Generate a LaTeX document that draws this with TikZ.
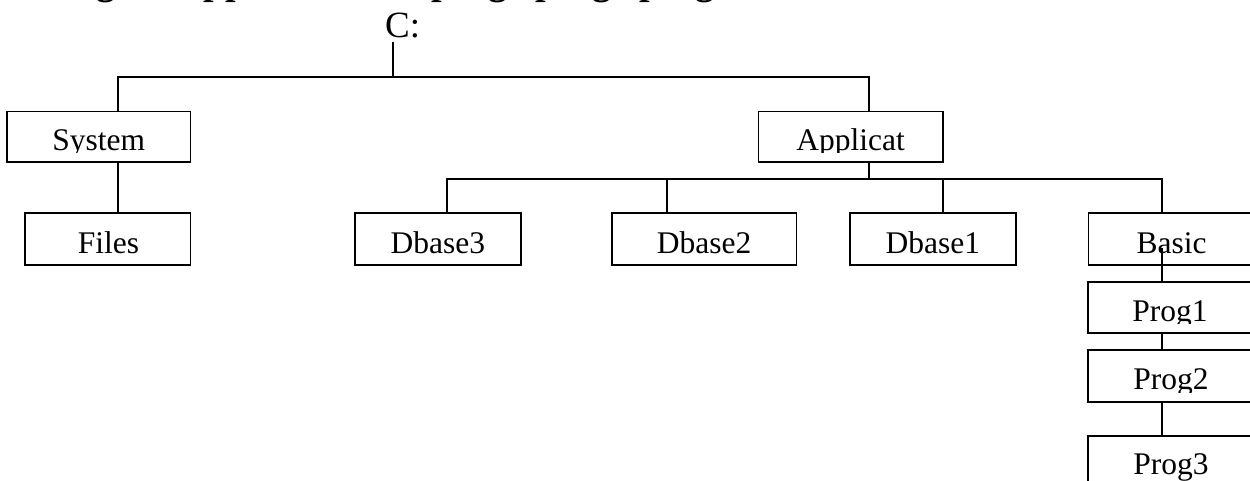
\documentclass[tikz,border=0pt]{standalone}
\usepackage{fontspec}
\setmainfont{Liberation Serif}
\begin{document}
\begin{tikzpicture}[x=1pt,y=-1pt,
  box/.style={draw, line width=1.8pt, inner sep=0pt, outer sep=0pt, rectangle},
  lbl/.style={anchor=base, inner sep=0pt, outer sep=0pt, font=\fontsize{31.5}{36}\selectfont},
  wire/.style={line width=1.8pt}]
\useasboundingbox (0,0) rectangle (1250,481);
\clip (0,0) rectangle (1250,481);

% heading, cut off at the top edge
\node[anchor=base west, inner sep=0pt, font=\fontsize{38}{44}\selectfont\bfseries] (head) at (1,-5.5) {Listing the applications to prog1 prog2 prog3};

% root label
\node[anchor=base, inner sep=0pt, font=\fontsize{37}{42}\selectfont] (root) at (402.7,37.5) {C:};

% boxes
\node[box, minimum width=183.5pt, minimum height=50.8pt] (sys) at (98.75,136.9) {};
\node[box, minimum width=184.1pt, minimum height=50.8pt] (apl) at (850.55,136.9) {};
\node[box, minimum width=165.8pt, minimum height=51.7pt] (files) at (107.6,239.15) {};
\node[box, minimum width=166.2pt, minimum height=51.7pt] (db3) at (437.8,239.15) {};
\node[box, minimum width=184.6pt, minimum height=51.7pt] (db2) at (704.1,239.15) {};
\node[box, minimum width=165.4pt, minimum height=51.7pt] (db1) at (932.9,239.15) {};
\node[box, minimum width=173.5pt, minimum height=51.7pt] (basic) at (1175.25,239.15) {};
\node[box, minimum width=173.5pt, minimum height=51pt] (p1) at (1175.05,307.2) {};
\node[box, minimum width=173.5pt, minimum height=51.7pt] (p2) at (1175.05,375.85) {};
\node[box, minimum width=173.5pt, minimum height=59.3pt] (p3) at (1175.05,465.35) {};

% labels (clipped as in the reference)
\begin{scope}
\clip (0,0) rectangle (1250,152.3);
\node[lbl] (sys-t) at (98.75,150.7) {System};
\node[lbl] (apl-t) at (850.55,150.7) {Applicat};
\end{scope}
\node[lbl] (files-t) at (108.6,254) {Files};
\node[lbl] (db3-t) at (437.8,254) {Dbase3};
\node[lbl] (db2-t) at (704.1,254) {Dbase2};
\node[lbl] (db1-t) at (932.9,254) {Dbase1};
\node[lbl] (basic-t) at (1171.5,253.5) {Basic};
\begin{scope}
\clip (0,0) rectangle (1250,323);
\node[lbl] (p1-t) at (1170,321.7) {Prog1};
\end{scope}
\begin{scope}
\clip (0,0) rectangle (1250,392);
\node[lbl] (p2-t) at (1171,389.3) {Prog2};
\end{scope}
\node[lbl] (p3-t) at (1171,474) {Prog3};

% junction coordinates
\coordinate (rootDrop) at (393,42);
\coordinate (barL) at (118,77);
\coordinate (barR) at (869,77);
\coordinate (barC) at (393,77);
\coordinate (aplBar) at (869,179.3);
\coordinate (subL) at (447.2,179.3);
\coordinate (subR) at (1162.3,179.3);
\coordinate (basicIn) at (1162.3,248);

% connectors
\draw[wire] (rootDrop) -- (barC);
\draw[wire] (sys.north -| barL) -- (barL) -- (barR) -- (apl.north -| barR);
\draw[wire] (sys.south -| barL) -- (files.north -| barL);
\draw[wire] (apl.south -| barR) -- (aplBar);
\draw[wire] (db3.north -| subL) -- (subL) -- (subR) -- (basic.north -| subR);
\draw[wire] (db2.north -| 666.8,0) -- (666.8,179.3);
\draw[wire] (db1.north -| 942.6,0) -- (942.6,179.3);
\draw[wire] (basicIn) -- (p1.north -| basicIn);
\draw[wire] (p1.south -| basicIn) -- (p2.north -| basicIn);
\draw[wire] (p2.south -| basicIn) -- (p3.north -| basicIn);
\end{tikzpicture}
\end{document}
